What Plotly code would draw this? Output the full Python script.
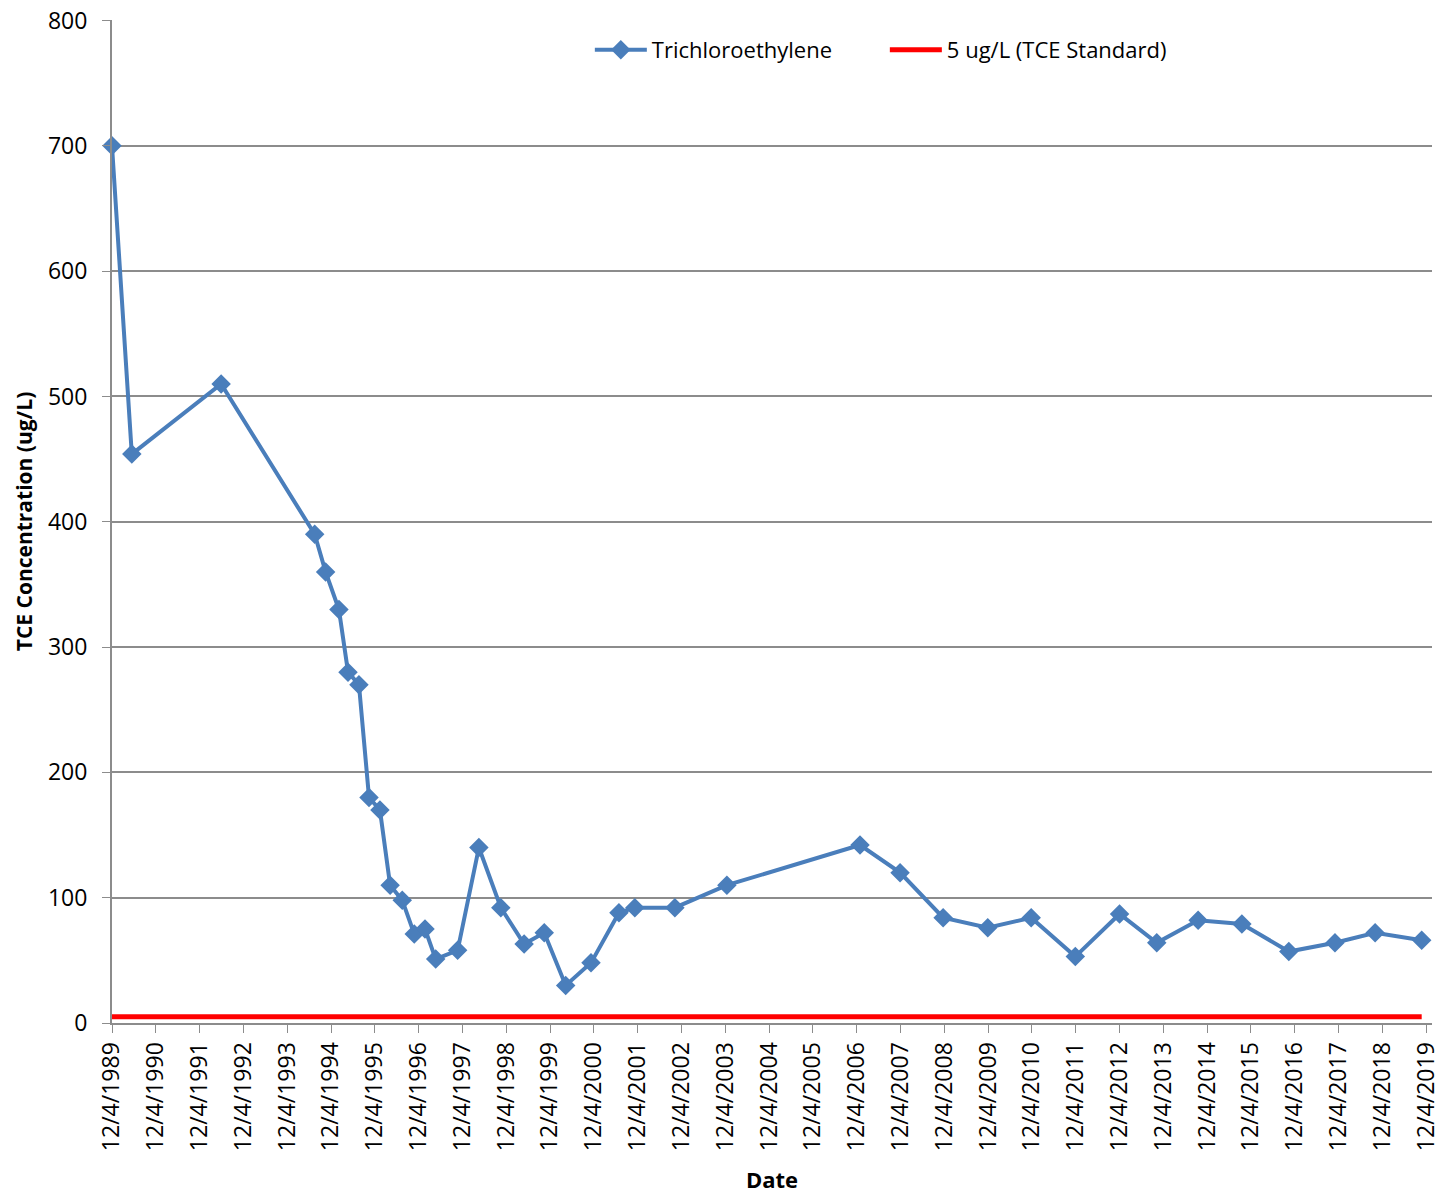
import plotly.graph_objects as go

dates = ["1989-12-04", "1990-05-18", "1992-06-01", "1994-07-21", "1994-10-20", "1995-02-08",
         "1995-04-25", "1995-07-25", "1995-10-17", "1996-01-16", "1996-04-10", "1996-07-20",
         "1996-10-28", "1997-01-26", "1997-04-25", "1997-10-25", "1998-04-20", "1998-10-20",
         "1999-05-02", "1999-10-17", "2000-04-13", "2000-11-10", "2001-07-01", "2001-11-10",
         "2002-10-10", "2003-12-18", "2007-01-01", "2007-12-01", "2008-11-24", "2009-12-01",
         "2010-11-28", "2011-12-01", "2012-12-04", "2013-10-10", "2014-09-20", "2015-09-20",
         "2016-10-15", "2017-11-04", "2018-10-05", "2019-10-28"]
tce = [700, 454, 510, 390, 360, 330,
       280, 270, 180, 170, 110, 98,
       71, 75, 51, 58, 140, 92,
       63, 72, 30, 48, 88, 92,
       92, 110, 142, 120, 84, 76,
       84, 53, 87, 64, 82, 79,
       57, 64, 72, 66]
standard_dates = [dates[0], dates[-1]]
standard_vals = [5, 5]

tick_years = list(range(1989, 2020))
tick_vals = [f"{y}-12-04" for y in tick_years]
tick_text = [f"12/4/{y}" for y in tick_years]

FONT = "Open Sans, Lato, sans-serif"
GRID = "#8c8c8c"
FS = 23

fig = go.Figure()
fig.add_trace(go.Scatter(
    x=dates, y=tce, mode="lines+markers", name="Trichloroethylene",
    line=dict(color="#4a7ebb", width=4),
    marker=dict(symbol="diamond", size=15, color="#4a7ebb"),
    cliponaxis=False,
))
fig.add_trace(go.Scatter(
    x=standard_dates, y=standard_vals, mode="lines", name="5 ug/L (TCE Standard)",
    line=dict(color="#ff0000", width=5),
))

fig.update_layout(
    width=1442, height=1196,
    margin=dict(l=112, r=10, t=20, b=173),
    paper_bgcolor="white", plot_bgcolor="white",
    font=dict(family=FONT, size=FS, color="black"),
    showlegend=True,
    legend=dict(orientation="h", x=0.362, y=0.991, xanchor="left", yanchor="top",
                font=dict(size=FS - 1), bgcolor="rgba(0,0,0,0)", itemwidth=52,
                entrywidth=228),
    xaxis=dict(
        type="date", range=["1989-12-04", "2020-01-22"], automargin=False,
        tickmode="array", tickvals=tick_vals, ticktext=tick_text,
        tickangle=-90, ticks="outside", ticklen=8, tickcolor=GRID,
        showline=True, linecolor=GRID, linewidth=2, showgrid=False,
        tickfont=dict(size=FS), ticklabeloverflow="allow",
        title=dict(text="<b>Date</b>", font=dict(size=FS - 1), standoff=22),
    ),
    yaxis=dict(
        range=[0, 800.4], tickvals=[0, 100, 200, 300, 400, 500, 600, 700, 800],
        ticks="outside", ticklen=8, tickcolor=GRID, ticklabelstandoff=10,
        showline=True, linecolor=GRID, linewidth=2, automargin=False,
        showgrid=True, gridcolor=GRID, gridwidth=1.5, zeroline=False,
        tickfont=dict(size=FS), ticklabeloverflow="allow",
        title=dict(text="<b>TCE Concentration (ug/L)</b>", font=dict(size=FS - 2), standoff=10),
    ),
)

fig.write_html("out.html", config={"displayModeBar": False},
               post_script="document.body.style.margin='0';")
